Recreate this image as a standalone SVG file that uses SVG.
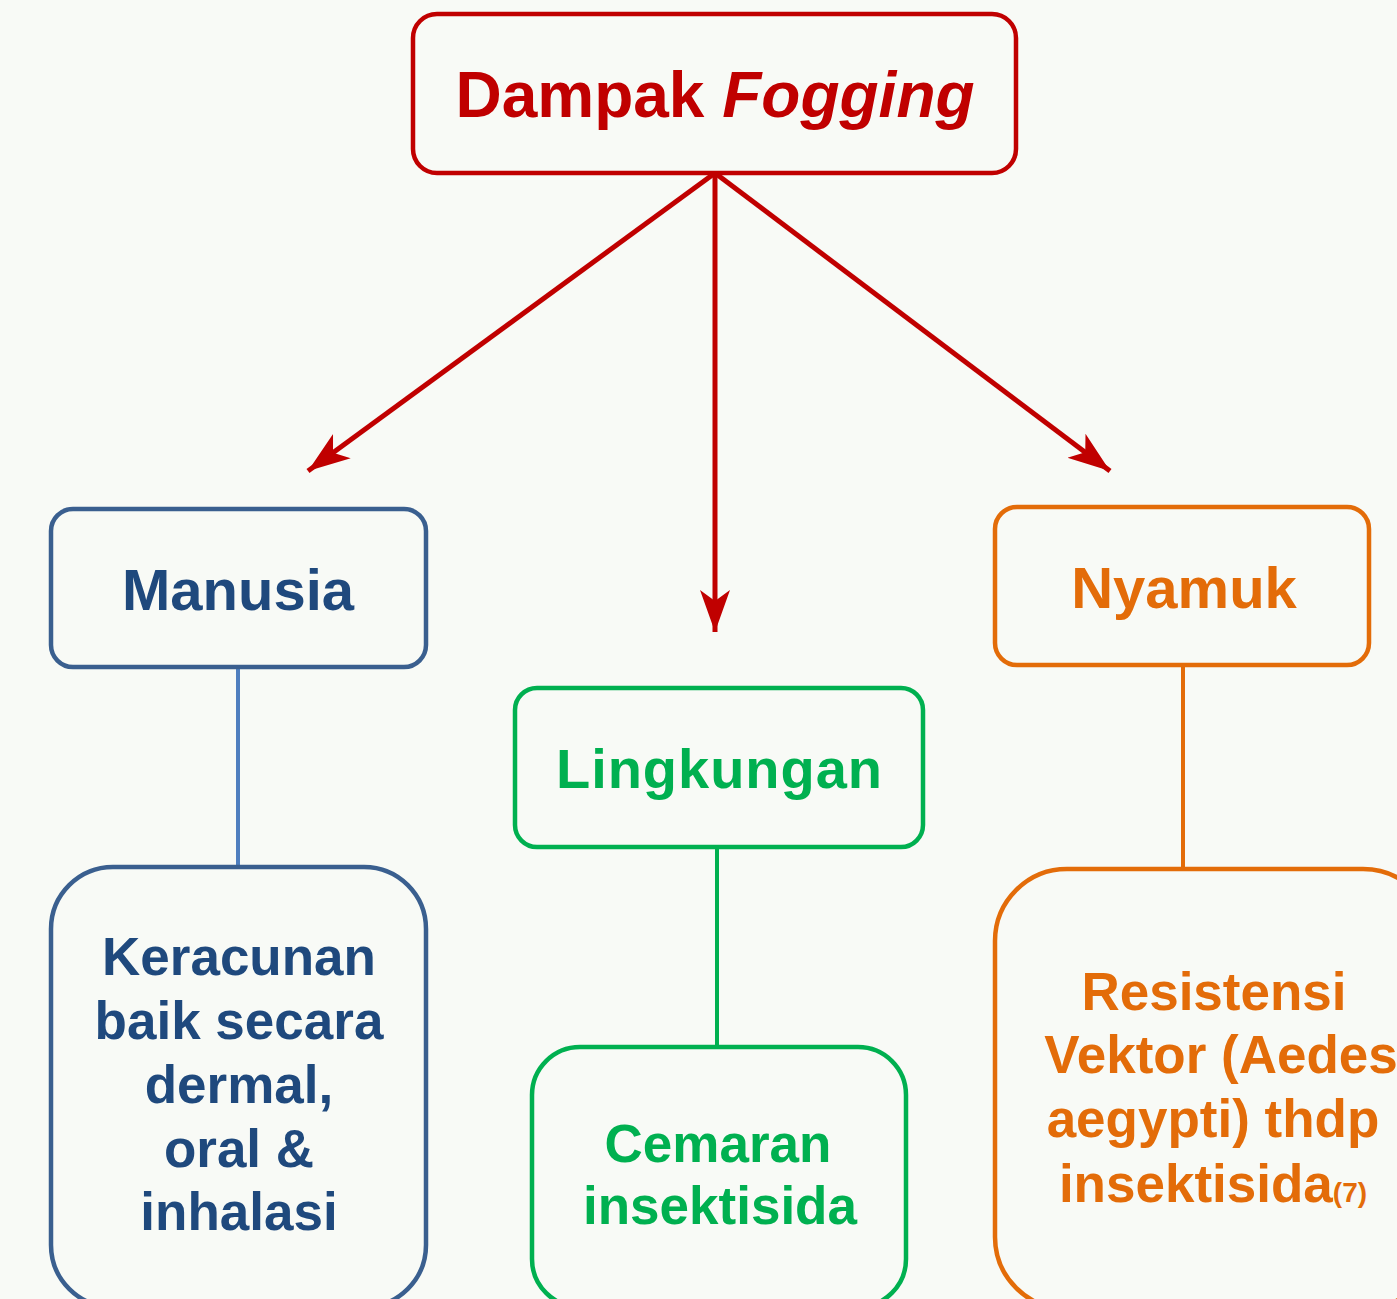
<svg xmlns="http://www.w3.org/2000/svg" width="1397" height="1299" viewBox="0 0 1397 1299">
<defs>
<marker id="ah" markerUnits="userSpaceOnUse" markerWidth="46" markerHeight="34" refX="42" refY="17" orient="auto">
<path d="M0,2 L42,17 L0,32 L11,17 z" fill="#c00000"/>
</marker>
<style>
text{font-family:"Liberation Sans",Arial,sans-serif;font-weight:bold;text-anchor:middle}
.box{fill:none;stroke-width:4.5}
</style>
</defs>
<rect width="1397" height="1299" fill="#f8faf6"/>
<g id="connectors">
<g stroke="#c00000" stroke-width="5" fill="none" marker-end="url(#ah)">
<line x1="715" y1="173" x2="308" y2="471"/>
<line x1="715" y1="173" x2="715" y2="632"/>
<line x1="715" y1="173" x2="1110" y2="471"/>
</g>
<line x1="238" y1="667" x2="238" y2="867" stroke="#4f7fbf" stroke-width="4"/>
<line x1="717" y1="847" x2="717" y2="1047" stroke="#00b050" stroke-width="4"/>
<line x1="1183" y1="666" x2="1183" y2="869" stroke="#e36c09" stroke-width="4"/>
</g>
<g id="dampak">
<rect class="box" x="413" y="14" width="603" height="159" rx="24" stroke="#c00000"/>
<text x="715" y="117" font-size="64" fill="#c00000">Dampak <tspan font-style="italic">Fogging</tspan></text>
</g>
<g id="manusia">
<rect class="box" x="51" y="509" width="375" height="158" rx="22" stroke="#3a5f8f"/>
<text x="238" y="610" font-size="58" fill="#1f497d">Manusia</text>
</g>
<g id="lingkungan">
<rect class="box" x="515" y="688" width="408" height="159" rx="22" stroke="#00b050"/>
<text x="719" y="788" font-size="56" fill="#00b050" textLength="326" lengthAdjust="spacing">Lingkungan</text>
</g>
<g id="nyamuk">
<rect class="box" x="995" y="507" width="374" height="158" rx="22" stroke="#e36c09"/>
<text x="1184" y="608" font-size="58" fill="#e36c09">Nyamuk</text>
</g>
<g id="keracunan">
<rect class="box" x="51" y="867" width="375" height="440" rx="62" stroke="#3a5f8f"/>
<text font-size="53" fill="#1f497d"><tspan x="239" y="975">Keracunan</tspan><tspan x="239" y="1039">baik secara</tspan><tspan x="239" y="1103">dermal,</tspan><tspan x="239" y="1167">oral &amp;</tspan><tspan x="239" y="1230">inhalasi</tspan></text>
</g>
<g id="cemaran">
<rect class="box" x="532" y="1047" width="374" height="260" rx="48" stroke="#00b050"/>
<text font-size="53" fill="#00b050"><tspan x="718" y="1162">Cemaran</tspan><tspan x="720" y="1224">insektisida</tspan></text>
</g>
<g id="resistensi">
<rect class="box" x="995" y="869" width="440" height="440" rx="72" stroke="#e36c09"/>
<text font-size="53" fill="#e36c09"><tspan x="1214" y="1010">Resistensi</tspan><tspan x="1221" y="1073">Vektor (Aedes</tspan><tspan x="1213" y="1137">aegypti) thdp</tspan><tspan x="1213" y="1202">insektisida<tspan font-size="28">(7)</tspan></tspan></text>
</g>
</svg>
